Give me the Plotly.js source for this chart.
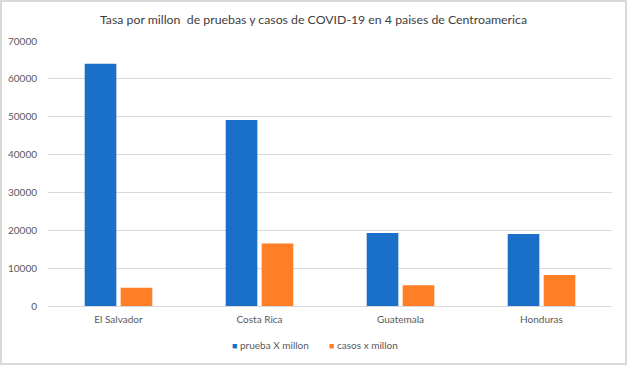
<!DOCTYPE html>
<html>
<head>
<meta charset="utf-8">
<script src="https://cdn.plot.ly/plotly-3.0.1.min.js"></script>
<style>
html,body{margin:0;padding:0;background:#fff;}
#chart{width:627px;height:365px;outline:2px solid #d9d9d9;outline-offset:-2px;}
</style>
</head>
<body>
<div id="chart"></div>
<script>
var categories = ["El Salvador", "Costa Rica", "Guatemala", "Honduras"];
var pruebas = [64000, 49100, 19300, 19000];
var casos = [4800, 16500, 5500, 8200];
var yTicks = [0, 10000, 20000, 30000, 40000, 50000, 60000, 70000];
var seriesNames = ["prueba X millon", "casos x millon"];
var seriesColors = ["#1A6FC8", "#FF7F27"];

var font = "Lato, 'Liberation Sans', Arial, sans-serif";
var data = [
  {type: "bar", x: categories, y: pruebas, name: seriesNames[0],
   marker: {color: seriesColors[0]}, showlegend: false},
  {type: "bar", x: categories, y: casos, name: seriesNames[1],
   marker: {color: seriesColors[1]}, showlegend: false}
];
var legendX = [0.3227, 0.4947];
var annotations = seriesNames.map(function (n, i) {
  return {xref: "paper", yref: "paper", x: legendX[i], y: -0.147,
          xanchor: "left", yanchor: "middle", showarrow: false,
          text: "<span style='color:" + seriesColors[i] + ";font-size:9px'>■</span> " + n,
          font: {family: font, size: 10, color: "#595959"}};
});
var layout = {
  width: 627, height: 365,
  margin: {l: 48, r: 15, t: 41, b: 59, autoexpand: false},
  paper_bgcolor: "rgba(0,0,0,0)", plot_bgcolor: "#fff",
  font: {family: font, size: 10, color: "#595959"},
  title: {text: "Tasa por millon  de pruebas y casos de COVID-19 en 4 paises de Centroamerica",
          font: {family: font, size: 12.3, color: "#404040"}, x: 0.5, xanchor: "center", y: 0.945, yanchor: "middle"},
  barmode: "group", bargap: 0.49, bargroupgap: 0.12,
  xaxis: {showgrid: false, showline: true, linecolor: "#d9d9d9", linewidth: 1,
          ticks: "", ticklabelstandoff: 4, tickfont: {size: 10, color: "#595959"}, fixedrange: true},
  yaxis: {range: [0, 70000], tickvals: yTicks, ticktext: yTicks.map(String),
          showgrid: true, gridcolor: "#d9d9d9", gridwidth: 1, zeroline: false,
          showline: false, ticks: "", ticklabelstandoff: 10,
          tickfont: {size: 10, color: "#595959"}, fixedrange: true},
  showlegend: false,
  annotations: annotations
};
Plotly.newPlot("chart", data, layout, {displayModeBar: false, staticPlot: true});
</script>
</body>
</html>
